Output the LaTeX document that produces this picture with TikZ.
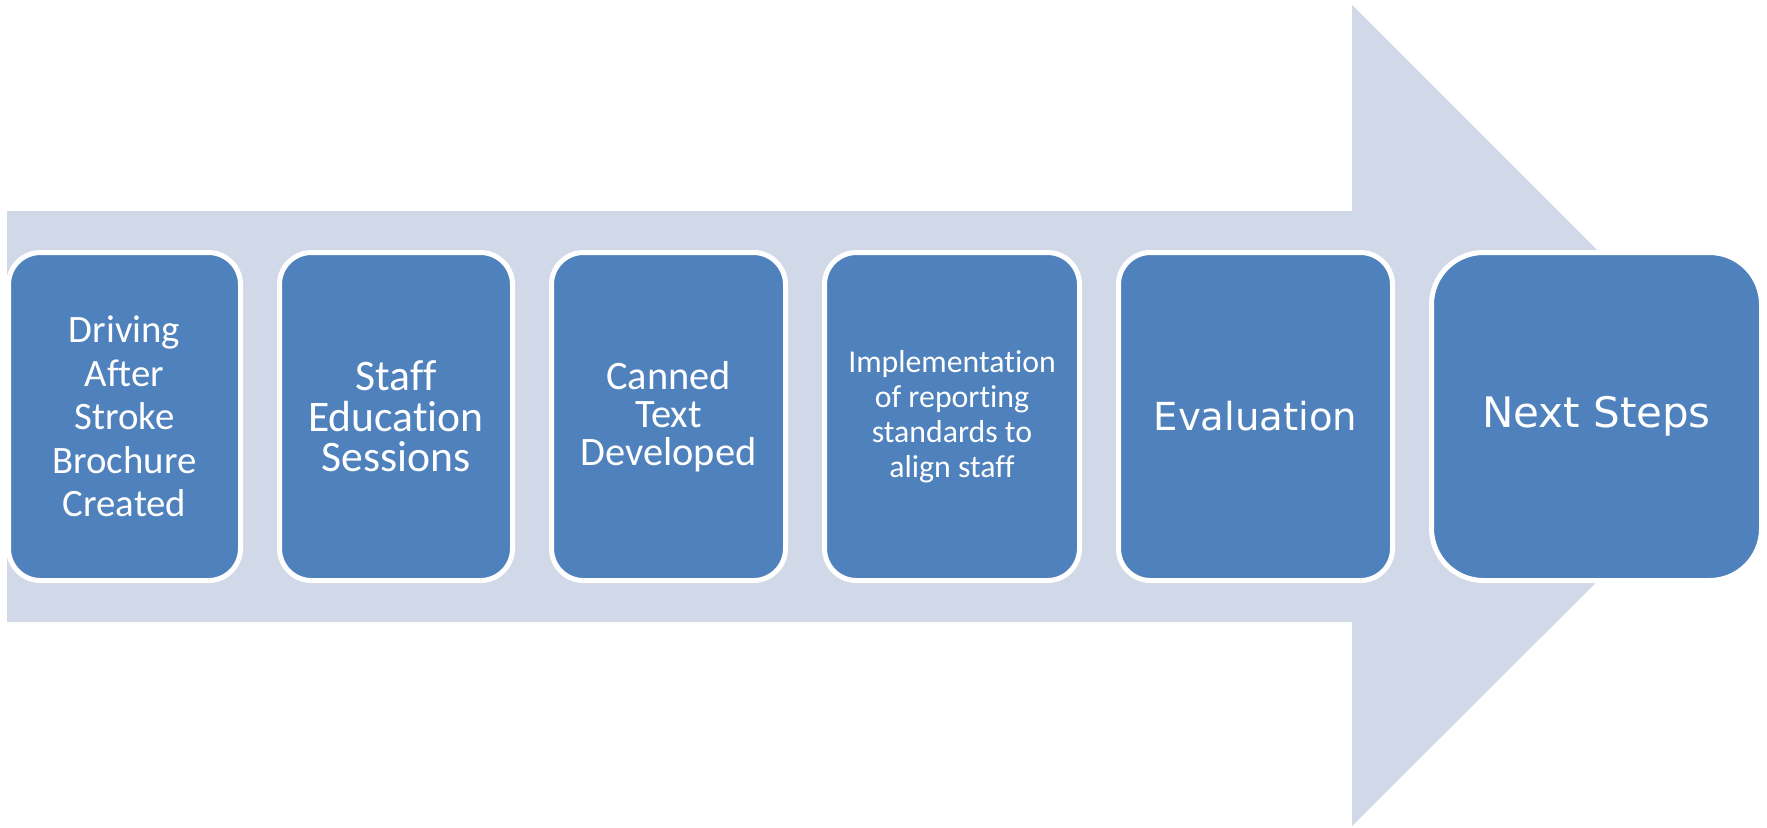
\documentclass[tikz,border=0pt]{standalone}
\usepackage{fontspec}
\setmainfont{Carlito}[Ligatures={NoCommon}]
\newfontfamily\wideface{DejaVu Sans}
\usetikzlibrary{positioning}
\definecolor{arrowgray}{HTML}{D1D8E8}
\definecolor{stepblue}{HTML}{4F81BD}
\begin{document}
\begin{tikzpicture}[x=0.5pt, y=-0.5pt, node distance=17pt,
  stagebox/.style={draw=white, line width=2.5pt, fill=stepblue, rounded corners=16pt,
    minimum height=164pt, inner sep=0pt, text=white, align=center}]
\useasboundingbox (0,0) rectangle (1767,827);
% background arrow
\fill[arrowgray] (7,211) -- (1352,211) -- (1352,5) -- (1763,416) -- (1352,826) -- (1352,622) -- (7,622) -- cycle;

\node (brochure) [stagebox, minimum width=116pt, font=\fontsize{19.4}{21.75}\selectfont] at (124.5,416.5) {Driving\\After\\Stroke\\Brochure\\Created};
\node (education) [stagebox, minimum width=116.5pt, font=\fontsize{21.8}{20.25}\selectfont, right=of brochure] {Staff\\Education\\Sessions};
\node (canned) [stagebox, minimum width=117pt, font=\fontsize{20.2}{19}\selectfont, right=of education] {Canned\\Text\\Developed};
\node (standards) [stagebox, minimum width=127.5pt, font=\fontsize{15.9}{17.6}\selectfont, right=of canned] {Implementation\\of reporting\\standards to\\align staff};
\node (evaluation) [stagebox, minimum width=137pt, font=\wideface\fontsize{19.3}{22}\selectfont, right=of standards] {Evaluation};
\node (nextsteps) [stagebox, minimum width=165pt, rounded corners=26pt, font=\wideface\fontsize{21}{24}\selectfont, right=of evaluation] {Next Steps};
\end{tikzpicture}
\end{document}
